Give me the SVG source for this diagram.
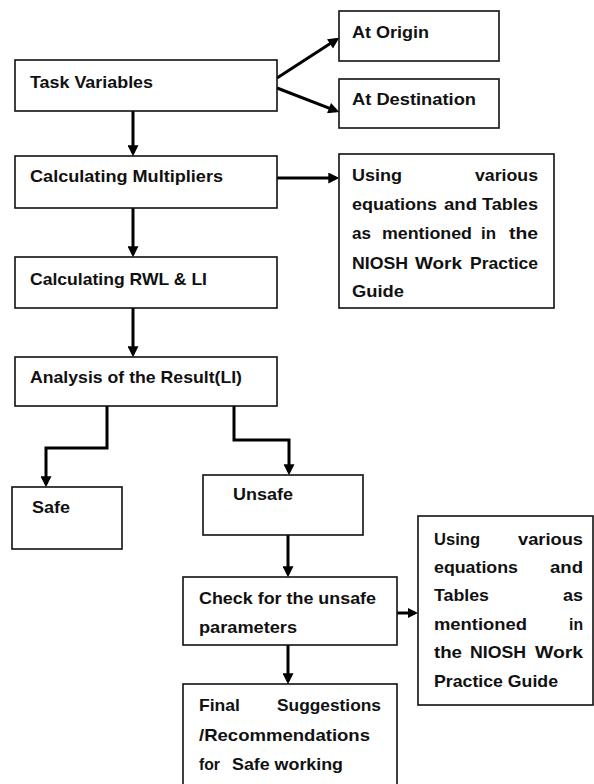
<svg xmlns="http://www.w3.org/2000/svg" width="594" height="784" viewBox="0 0 594 784">
<style>
.box{fill:#fff;stroke:#111;stroke-width:1.6}
.t{font-family:"Liberation Sans",Arial,sans-serif;font-weight:bold;font-size:17px;fill:#111}
.c{fill:none;stroke:#000;stroke-width:3;stroke-linejoin:miter}
</style>
<defs>
<marker id="ah" viewBox="0 0 10 10" refX="7" refY="5" markerWidth="12" markerHeight="11" markerUnits="userSpaceOnUse" orient="auto">
<path d="M0,0 L10,5 L0,10 z" fill="#000"/>
</marker>
<marker id="ahs" viewBox="0 0 10 10" refX="7" refY="5" markerWidth="10" markerHeight="10" markerUnits="userSpaceOnUse" orient="auto">
<path d="M0,0 L10,5 L0,10 z" fill="#000"/>
</marker>
</defs>
<rect width="594" height="784" fill="#fff"/>
<g id="connectors">
<path class="c" d="M277,78 L336.5,39.6" marker-end="url(#ah)"/>
<path class="c" d="M277,88 L336.2,110.9" marker-end="url(#ah)"/>
<path class="c" d="M133,111 L133,153" marker-end="url(#ah)"/>
<path class="c" d="M277,178 L336,178" marker-end="url(#ah)"/>
<path class="c" d="M133,208 L133,254" marker-end="url(#ah)"/>
<path class="c" d="M133,308 L133,354" marker-end="url(#ah)"/>
<path class="c" d="M107,406 L107,448 L46,448 L46,484" marker-end="url(#ah)"/>
<path class="c" d="M234,406 L234,440 L289,440 L289,472" marker-end="url(#ah)"/>
<path class="c" d="M288,534 L288,574" marker-end="url(#ah)"/>
<path class="c" d="M288,645 L288,681" marker-end="url(#ah)"/>
<path class="c" d="M396,613 L415,613" marker-end="url(#ahs)"/>
</g>
<g id="task-variables">
<rect class="box" x="15" y="60" width="262" height="51"/>
<text class="t" x="30" y="88" textLength="123" lengthAdjust="spacingAndGlyphs">Task Variables</text>
</g>
<g id="at-origin">
<rect class="box" x="339" y="11" width="160" height="50"/>
<text class="t" x="352" y="38" textLength="77" lengthAdjust="spacingAndGlyphs">At Origin</text>
</g>
<g id="at-destination">
<rect class="box" x="339" y="79" width="160" height="49"/>
<text class="t" x="352" y="105" textLength="124" lengthAdjust="spacingAndGlyphs">At Destination</text>
</g>
<g id="calculating-multipliers">
<rect class="box" x="15" y="156" width="262" height="52"/>
<text class="t" x="30" y="182" textLength="193" lengthAdjust="spacingAndGlyphs">Calculating Multipliers</text>
</g>
<g id="using-various-1">
<rect class="box" x="339" y="154" width="215" height="154"/>
<text class="t" x="352" y="181" textLength="50" lengthAdjust="spacingAndGlyphs">Using</text>
<text class="t" x="475" y="181" textLength="63" lengthAdjust="spacingAndGlyphs">various</text>
<text class="t" x="352" y="210" textLength="85" lengthAdjust="spacingAndGlyphs">equations</text>
<text class="t" x="444" y="210" textLength="33" lengthAdjust="spacingAndGlyphs">and</text>
<text class="t" x="482" y="210" textLength="56" lengthAdjust="spacingAndGlyphs">Tables</text>
<text class="t" x="352" y="239" textLength="19" lengthAdjust="spacingAndGlyphs">as</text>
<text class="t" x="382" y="239" textLength="90" lengthAdjust="spacingAndGlyphs">mentioned</text>
<text class="t" x="481" y="239" textLength="15" lengthAdjust="spacingAndGlyphs">in</text>
<text class="t" x="509" y="239" textLength="29" lengthAdjust="spacingAndGlyphs">the</text>
<text class="t" x="352" y="269" textLength="56" lengthAdjust="spacingAndGlyphs">NIOSH</text>
<text class="t" x="415" y="269" textLength="47" lengthAdjust="spacingAndGlyphs">Work</text>
<text class="t" x="470" y="269" textLength="68" lengthAdjust="spacingAndGlyphs">Practice</text>
<text class="t" x="352" y="297" textLength="52" lengthAdjust="spacingAndGlyphs">Guide</text>
</g>
<g id="calculating-rwl-li">
<rect class="box" x="15" y="257" width="262" height="51"/>
<text class="t" x="30" y="285" textLength="177" lengthAdjust="spacingAndGlyphs">Calculating RWL &amp; LI</text>
</g>
<g id="analysis">
<rect class="box" x="15" y="357" width="262" height="49"/>
<text class="t" x="30" y="383" textLength="212" lengthAdjust="spacingAndGlyphs">Analysis of the Result(LI)</text>
</g>
<g id="safe">
<rect class="box" x="12" y="487" width="110" height="62"/>
<text class="t" x="32" y="513" textLength="38" lengthAdjust="spacingAndGlyphs">Safe</text>
</g>
<g id="unsafe">
<rect class="box" x="203" y="475" width="160" height="60"/>
<text class="t" x="233" y="500" textLength="60" lengthAdjust="spacingAndGlyphs">Unsafe</text>
</g>
<g id="check-unsafe">
<rect class="box" x="183" y="577" width="214" height="68"/>
<text class="t" x="199" y="604" textLength="177" lengthAdjust="spacingAndGlyphs">Check for the unsafe</text>
<text class="t" x="199" y="633" textLength="98" lengthAdjust="spacingAndGlyphs">parameters</text>
</g>
<g id="using-various-2">
<rect class="box" x="418" y="516" width="175" height="189"/>
<text class="t" x="434" y="545" textLength="46" lengthAdjust="spacingAndGlyphs">Using</text>
<text class="t" x="518" y="545" textLength="65" lengthAdjust="spacingAndGlyphs">various</text>
<text class="t" x="434" y="573" textLength="84" lengthAdjust="spacingAndGlyphs">equations</text>
<text class="t" x="550" y="573" textLength="33" lengthAdjust="spacingAndGlyphs">and</text>
<text class="t" x="434" y="601" textLength="55" lengthAdjust="spacingAndGlyphs">Tables</text>
<text class="t" x="563" y="601" textLength="20" lengthAdjust="spacingAndGlyphs">as</text>
<text class="t" x="434" y="630" textLength="93" lengthAdjust="spacingAndGlyphs">mentioned</text>
<text class="t" x="569" y="630" textLength="14" lengthAdjust="spacingAndGlyphs">in</text>
<text class="t" x="434" y="658" textLength="28" lengthAdjust="spacingAndGlyphs">the</text>
<text class="t" x="470" y="658" textLength="56" lengthAdjust="spacingAndGlyphs">NIOSH</text>
<text class="t" x="535" y="658" textLength="48" lengthAdjust="spacingAndGlyphs">Work</text>
<text class="t" x="434" y="687" textLength="124" lengthAdjust="spacingAndGlyphs">Practice Guide</text>
</g>
<g id="final-suggestions">
<rect class="box" x="183" y="684" width="214" height="110"/>
<text class="t" x="199" y="711" textLength="41" lengthAdjust="spacingAndGlyphs">Final</text>
<text class="t" x="277" y="711" textLength="104" lengthAdjust="spacingAndGlyphs">Suggestions</text>
<text class="t" x="199" y="741" textLength="171" lengthAdjust="spacingAndGlyphs">/Recommendations</text>
<text class="t" x="199" y="770" textLength="21" lengthAdjust="spacingAndGlyphs">for</text>
<text class="t" x="232" y="770" textLength="111" lengthAdjust="spacingAndGlyphs">Safe working</text>
</g>
</svg>
